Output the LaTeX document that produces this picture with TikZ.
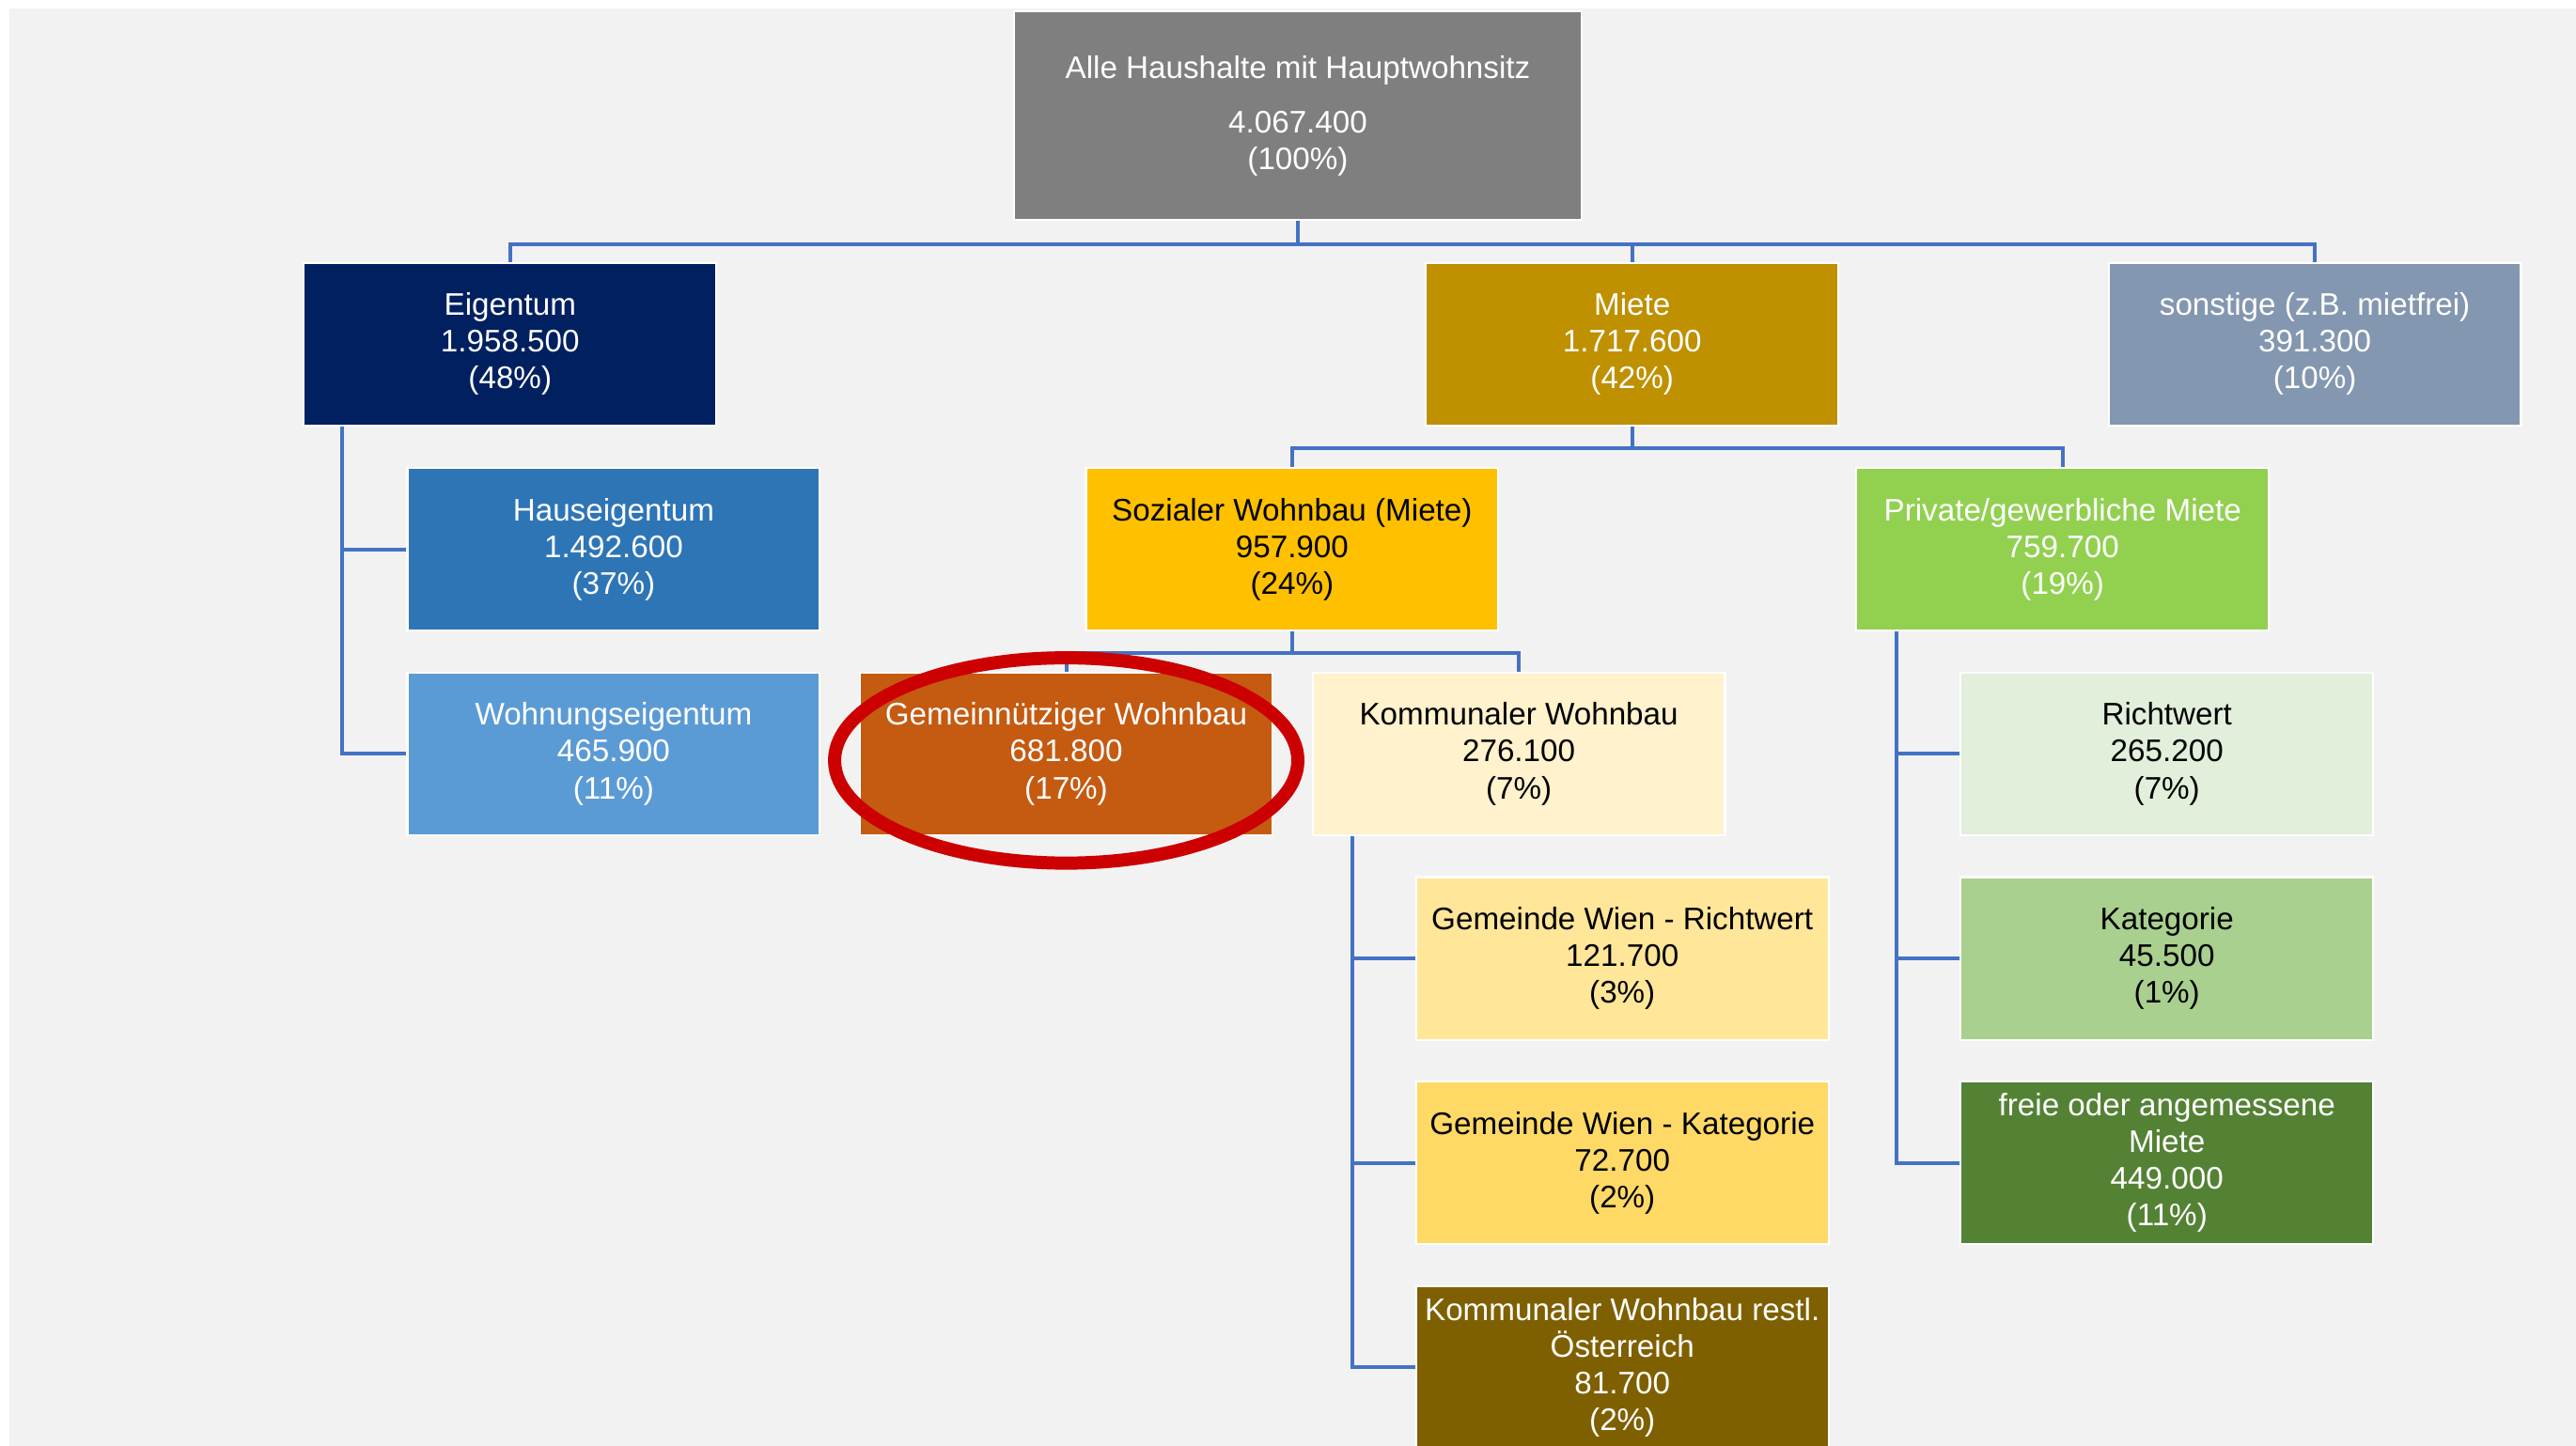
\documentclass[tikz,border=0pt]{standalone}
\usepackage{fontspec}
\setmainfont{Liberation Sans}
\usepackage{tikz}
\usetikzlibrary{shapes}
\definecolor{bggray}{HTML}{F2F2F2}
\definecolor{linkblue}{HTML}{4472C4}
\definecolor{ringred}{HTML}{CC0000}
\definecolor{cTop}{HTML}{7F7F7F}
\definecolor{cEig}{HTML}{002060}
\definecolor{cMiete}{HTML}{BF9000}
\definecolor{cSonst}{HTML}{8497B0}
\definecolor{cHaus}{HTML}{2E75B6}
\definecolor{cWohn}{HTML}{5B9BD5}
\definecolor{cSoz}{HTML}{FFC000}
\definecolor{cPriv}{HTML}{92D050}
\definecolor{cGemn}{HTML}{C55A11}
\definecolor{cKomm}{HTML}{FFF2CC}
\definecolor{cRicht}{HTML}{E2EFDA}
\definecolor{cGwr}{HTML}{FFE699}
\definecolor{cKat}{HTML}{A9D08E}
\definecolor{cGwk}{HTML}{FFD966}
\definecolor{cFrei}{HTML}{548235}
\definecolor{cKwr}{HTML}{7F6000}
\tikzset{
    box/.style={draw=white, line width=1.2pt, minimum width=251pt, minimum height=99pt,
        inner sep=0pt, align=center, font=\fontsize{19}{22.4}\selectfont},
    lightbox/.style={box, text=white},
    darkbox/.style={box, text=black},
    link/.style={draw=linkblue, line width=2.3pt},
    ring/.style={draw=ringred, line width=8pt},
}
\begin{document}
\begin{tikzpicture}[x=1pt, y=-1pt]
	\clip (0,0) rectangle (1568,880);
	\fill[white] (-5,-5) rectangle (1575,890);
	\fill[bggray] (6,5) rectangle (1575,890);
	% top level
	\node[lightbox, fill=cTop, minimum width=346pt, minimum height=127pt] (top) at (790,70.5)
		{Alle Haushalte mit Hauptwohnsitz\\[10.6pt]4.067.400\\(100\%)};
	\node[lightbox, fill=cEig] (eig) at (310.5,209.5) {Eigentum\\1.958.500\\(48\%)};
	\node[lightbox, fill=cMiete] (miete) at (993.5,209.5) {Miete\\1.717.600\\(42\%)};
	\node[lightbox, fill=cSonst] (sonst) at (1409,209.5) {sonstige (z.B. mietfrei)\\391.300\\(10\%)};
	% Eigentum
	\node[lightbox, fill=cHaus] (haus) at (373.5,334.5) {Hauseigentum\\1.492.600\\(37\%)};
	\node[lightbox, fill=cWohn] (wohn) at (373.5,459) {Wohnungseigentum\\465.900\\(11\%)};
	% Miete
	\node[darkbox, fill=cSoz] (soz) at (786.5,334.5) {Sozialer Wohnbau (Miete)\\957.900\\(24\%)};
	\node[lightbox, fill=cPriv] (priv) at (1255.5,334.5) {Private/gewerbliche Miete\\759.700\\(19\%)};
	\node[lightbox, fill=cGemn] (gemn) at (649,459) {Gemeinnütziger Wohnbau\\681.800\\(17\%)};
	\node[darkbox, fill=cKomm] (komm) at (924.5,459) {Kommunaler Wohnbau\\276.100\\(7\%)};
	\node[darkbox, fill=cRicht] (richt) at (1319,459) {Richtwert\\265.200\\(7\%)};
	\node[darkbox, fill=cGwr] (gwr) at (987.5,583.5) {Gemeinde Wien - Richtwert\\121.700\\(3\%)};
	\node[darkbox, fill=cKat] (kat) at (1319,583.5) {Kategorie\\45.500\\(1\%)};
	\node[darkbox, fill=cGwk] (gwk) at (987.5,708) {Gemeinde Wien - Kategorie\\72.700\\(2\%)};
	\node[lightbox, fill=cFrei] (frei) at (1319,708) {freie oder angemessene\\Miete\\449.000\\(11\%)};
	\node[lightbox, fill=cKwr] (kwr) at (987.5,832.5) {Kommunaler Wohnbau restl.\\Österreich\\81.700\\(2\%)};
	% links
	\draw[link] (top.south) -- ++(0,14) -| (eig.north);
	\draw[link] (top.south) -- ++(0,14) -| (miete.north);
	\draw[link] (top.south) -- ++(0,14) -| (sonst.north);
	\draw[link] ([xshift=24pt]eig.south west) |- (haus.west);
	\draw[link] ([xshift=24pt]eig.south west) |- (wohn.west);
	\draw[link] (miete.south) -- ++(0,13) -| (soz.north);
	\draw[link] (miete.south) -- ++(0,13) -| (priv.north);
	\draw[link] (soz.south) -- ++(0,13) -| (gemn.north);
	\draw[link] (soz.south) -- ++(0,13) -| (komm.north);
	\draw[link] ([xshift=25pt]komm.south west) |- (gwr.west);
	\draw[link] ([xshift=25pt]komm.south west) |- (gwk.west);
	\draw[link] ([xshift=25pt]komm.south west) |- (kwr.west);
	\draw[link] ([xshift=25pt]priv.south west) |- (richt.west);
	\draw[link] ([xshift=25pt]priv.south west) |- (kat.west);
	\draw[link] ([xshift=25pt]priv.south west) |- (frei.west);
	% highlight
	\draw[ring] ([yshift=-4pt]gemn.center) ellipse [x radius=141pt, y radius=62.5pt];
\end{tikzpicture}
\end{document}
